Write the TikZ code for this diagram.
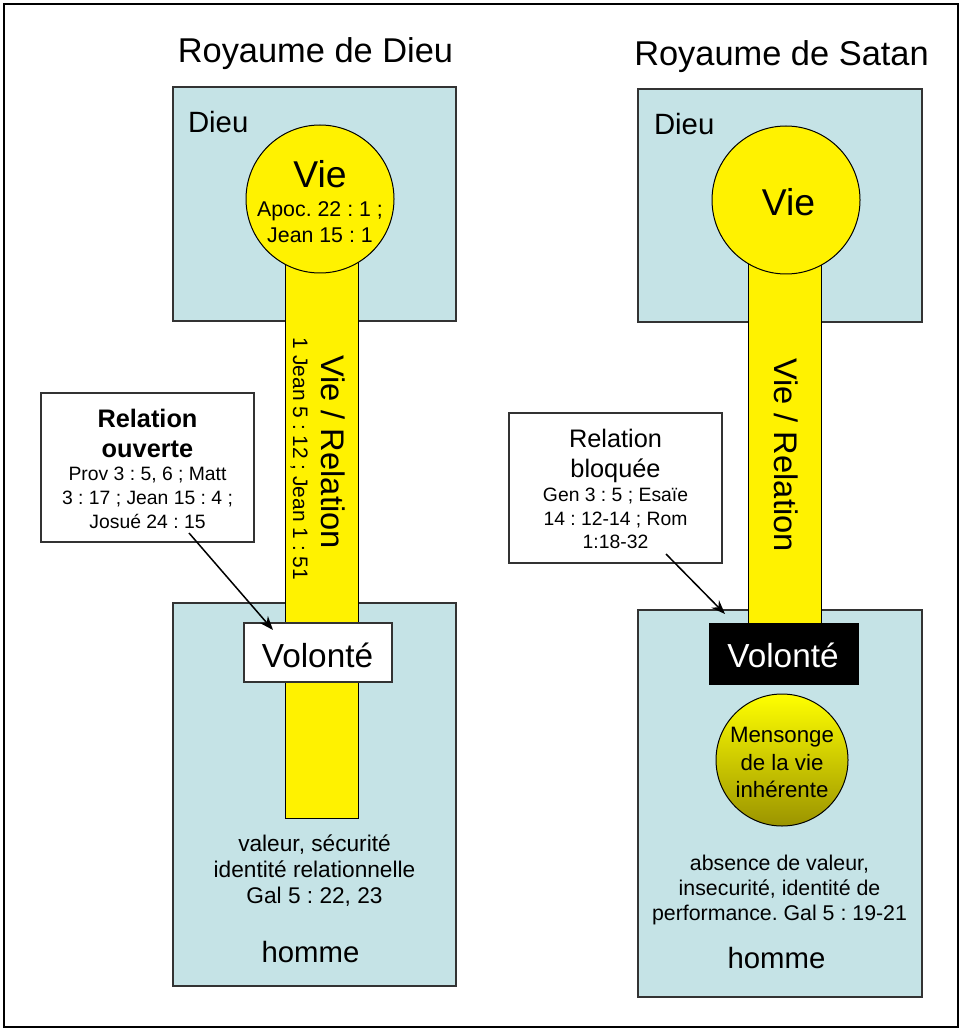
\documentclass[tikz,border=0pt]{standalone}
\usepackage{fontspec}
\setmainfont{Liberation Sans}
\usetikzlibrary{calc,arrows.meta}
\frenchspacing
\newdimen\pxu \pxu=0.75pt
\definecolor{boxblue}{HTML}{C5E3E6}
\definecolor{edgegray}{HTML}{333333}
\definecolor{olive}{RGB}{155,148,0}
\newcommand{\fs}[1]{\fontsize{#1}{#1}\selectfont\frenchspacing}
\tikzset{
  kbox/.style={draw=edgegray, fill=boxblue, line width=1.5\pxu, inner sep=0, outer sep=0},
  barbox/.style={draw=black, fill=yellow, line width=1\pxu, inner sep=0, outer sep=0},
  viecircle/.style={circle, draw=black, fill=yellow, line width=1\pxu, inner sep=0, outer sep=0},
  notebox/.style={draw=edgegray, fill=white, line width=1.5\pxu, inner sep=0, outer sep=0},
  txt/.style={inner sep=0, outer sep=0, anchor=base, text=black},
  arr/.style={-{Stealth[length=10.5pt, width=8pt]}, line width=1.5\pxu, draw=black},
}
\begin{document}
\begin{tikzpicture}[x=0.75pt, y=-0.75pt]
\useasboundingbox (0,0) rectangle (961,1030);
\draw[line width=2\pxu, draw=black] (4,4) rectangle (958,1027);

% ---------- Left: Royaume de Dieu ----------
\node[txt, font=\fs{25.8}] (titleL) at (315.5,63) {Royaume de Dieu};
\node[kbox, minimum width=283\pxu, minimum height=234\pxu] (topL) at (314.5,204) {};
\node[kbox, minimum width=283\pxu, minimum height=383\pxu] (botL) at (314.5,794.5) {};
\node[barbox, minimum width=73\pxu, minimum height=608\pxu] (barL) at (321.5,514) {};
\node[viecircle, minimum size=148\pxu] (vieL) at (320,199) {};
\node[txt, anchor=base west, font=\fs{22}] (dieuL) at (188,133) {Dieu};
\node[txt, font=\fs{28}] (vieLt) at (320,188) {Vie};
\node[txt, font=\fs{16}] (apoc) at (320,217) {Apoc. 22 : 1 ;};
\node[txt, font=\fs{16}] (jean) at (320,243) {Jean 15 : 1};
\node[txt, rotate=-90, font=\fs{24.5}] (vrL) at (321,452) {Vie / Relation};
\node[txt, rotate=-90, font=\fs{15.7}] (refbar) at (293,459) {1 Jean 5 : 12 ; Jean 1 : 51};
\node[notebox, minimum width=148\pxu, minimum height=59\pxu] (volL) at (318,652.5) {};
\node[txt, font=\fs{25}] (volLt) at (317.5,667) {Volonté};
\node[notebox, minimum width=213\pxu, minimum height=149\pxu] (relL) at (147.5,467.5) {};
\node[txt, font=\fs{19}\bfseries] (relL1) at (147.5,427) {Relation};
\node[txt, font=\fs{19}\bfseries] (relL2) at (147.5,457) {ouverte};
\node[txt, font=\fs{14.5}] (relL3) at (147.5,480) {Prov 3 : 5, 6 ; Matt};
\node[txt, font=\fs{14.5}] (relL4) at (147.5,504) {3 : 17 ; Jean 15 : 4 ;};
\node[txt, font=\fs{14.5}] (relL5) at (147.5,528) {Josué 24 : 15};
\node[txt, font=\fs{17}] (valL1) at (314.5,851) {valeur, sécurité};
\node[txt, font=\fs{17}] (valL2) at (314.5,877) {identité relationnelle};
\node[txt, font=\fs{17}] (valL3) at (314.5,903) {Gal 5 : 22, 23};
\node[txt, font=\fs{22}] (hommeL) at (310.5,962) {homme};
\draw[arr] ($(relL.south)+(41.5,-9)$) -- ($(volL.north west)+(29,7)$);

% ---------- Right: Royaume de Satan ----------
\node[txt, font=\fs{25.8}] (titleR) at (781.5,66) {Royaume de Satan};
\node[kbox, minimum width=284\pxu, minimum height=233\pxu] (topR) at (780,205.5) {};
\node[kbox, minimum width=284\pxu, minimum height=387\pxu] (botR) at (780,803.5) {};
\node[barbox, minimum width=73\pxu, minimum height=413\pxu] (barR) at (784.5,416.5) {};
\node[viecircle, minimum size=148\pxu] (vieR) at (786,200) {};
\node[txt, anchor=base west, font=\fs{22}] (dieuR) at (654,135) {Dieu};
\node[txt, font=\fs{28}] (vieRt) at (788.5,216) {Vie};
\node[txt, rotate=-90, font=\fs{24.5}] (vrR) at (774,455) {Vie / Relation};
\node[draw=black, fill=black, line width=1\pxu, inner sep=0, outer sep=0,
      minimum width=149\pxu, minimum height=61\pxu] (volR) at (783.5,653.5) {};
\node[txt, text=white, font=\fs{25}] (volRt) at (783,667) {Volonté};
\node[circle, draw=black, line width=1\pxu, inner sep=0, outer sep=0,
      top color=yellow, bottom color=olive, minimum size=132\pxu] (menR) at (782,760) {};
\node[txt, font=\fs{16.7}] (men1) at (782,742) {Mensonge};
\node[txt, font=\fs{16.7}] (men2) at (782,770) {de la vie};
\node[txt, font=\fs{16.7}] (men3) at (782,797) {inhérente};
\node[notebox, minimum width=213\pxu, minimum height=150\pxu] (relR) at (615.5,488) {};
\node[txt, font=\fs{19}] (relR1) at (615.5,447) {Relation};
\node[txt, font=\fs{19}] (relR2) at (615.5,477) {bloquée};
\node[txt, font=\fs{14.5}] (relR3) at (615.5,501) {Gen 3 : 5 ; Esaïe};
\node[txt, font=\fs{14.5}] (relR4) at (615.5,525) {14 : 12-14 ; Rom};
\node[txt, font=\fs{14.5}] (relR5) at (615.5,548) {1:18-32};
\node[txt, font=\fs{16}] (valR1) at (779.5,870) {absence de valeur,};
\node[txt, font=\fs{16}] (valR2) at (779.5,895) {insecurité, identité de};
\node[txt, font=\fs{16}] (valR3) at (779.5,920) {performance. Gal 5 : 19-21};
\node[txt, font=\fs{22}] (hommeR) at (776.5,968) {homme};
\draw[arr] ($(relR.south)+(50.5,-9)$) -- ($(volR.north west)+(16,-9)$);
\end{tikzpicture}
\end{document}
